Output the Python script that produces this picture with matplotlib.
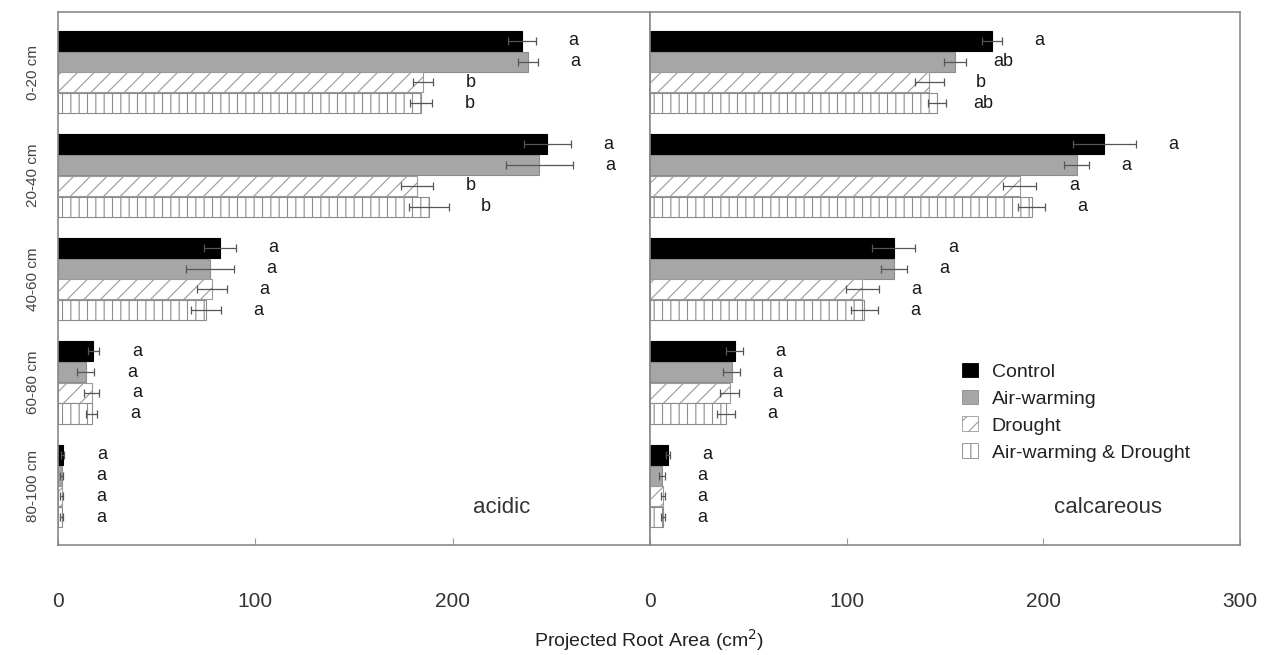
import numpy as np
import matplotlib
matplotlib.use('Agg')
import matplotlib.pyplot as plt
from matplotlib.patches import Patch

plt.rcParams['font.family'] = ['Liberation Sans', 'DejaVu Sans']
plt.rcParams['hatch.linewidth'] = 0.8

depths = ['0-20 cm', '20-40 cm', '40-60 cm', '60-80 cm', '80-100 cm']
treatments = ['Control', 'Air-warming', 'Drought', 'Air-warming & Drought']

# acidic soil
ac_control = [235, 248, 82, 18, 2.5]
ac_warm = [238, 244, 77, 14, 2]
ac_drought = [185, 182, 78, 17, 2]
ac_both = [184, 188, 75, 17, 2]
ac_control_se = [7, 12, 8, 3, 0.8]
ac_warm_se = [5, 17, 12, 4.4, 0.8]
ac_drought_se = [5, 8, 7.6, 4, 0.8]
ac_both_se = [5.6, 10, 7.5, 3, 0.8]
ac_control_let = ['a', 'a', 'a', 'a', 'a']
ac_warm_let = ['a', 'a', 'a', 'a', 'a']
ac_drought_let = ['b', 'b', 'a', 'a', 'a']
ac_both_let = ['b', 'b', 'a', 'a', 'a']

# calcareous soil
ca_control = [174, 231, 124, 43, 9]
ca_warm = [155, 217, 124, 41.5, 6]
ca_drought = [142, 188, 108, 40.5, 6.5]
ca_both = [146, 194, 109, 38.5, 6.5]
ca_control_se = [5, 16, 11, 4.3, 1]
ca_warm_se = [5.6, 6.4, 6.7, 4.2, 1.5]
ca_drought_se = [7.3, 8.5, 8.5, 5, 1]
ca_both_se = [4.5, 7, 6.8, 4.5, 1]
ca_control_let = ['a', 'a', 'a', 'a', 'a']
ca_warm_let = ['ab', 'a', 'a', 'a', 'a']
ca_drought_let = ['b', 'a', 'a', 'a', 'a']
ca_both_let = ['ab', 'a', 'a', 'a', 'a']

styles = [dict(color='black', edgecolor='black'),
          dict(color='#a6a6a6', edgecolor='#8c8c8c'),
          dict(color='white', edgecolor='#9a9a9a', hatch='//'),
          dict(color='white', edgecolor='#8c8c8c', hatch='||')]

panels = [
    ('acidic', 0.75, [ac_control, ac_warm, ac_drought, ac_both],
     [ac_control_se, ac_warm_se, ac_drought_se, ac_both_se],
     [ac_control_let, ac_warm_let, ac_drought_let, ac_both_let]),
    ('calcareous', 0.776, [ca_control, ca_warm, ca_drought, ca_both],
     [ca_control_se, ca_warm_se, ca_drought_se, ca_both_se],
     [ca_control_let, ca_warm_let, ca_drought_let, ca_both_let]),
]

fig = plt.figure(figsize=(12.71, 6.55), dpi=100)
ax1 = fig.add_axes([0.0456, 0.168, 0.4658, 0.8137])
ax2 = fig.add_axes([0.5114, 0.168, 0.4642, 0.8137])

base = np.arange(len(depths)) * 5
for ax, (name, nx, means, ses, lets) in zip([ax1, ax2], panels):
    for i in range(4):
        y = base + i
        ax.barh(y, means[i], height=0.97, linewidth=0.8, **styles[i])
        ax.errorbar(means[i], y, xerr=ses[i], fmt='none', ecolor='#555555',
                    elinewidth=0.9, capsize=3, capthick=0.9)
        for k in range(len(depths)):
            ax.text(means[i][k] + ses[i][k] + 19, y[k], lets[i][k],
                    ha='center', va='center', fontsize=13, color='#1a1a1a')
    ax.set_xlim(0, 300)
    ax.set_ylim(24.35, -1.4)
    ax.text(nx, 0.07, name, transform=ax.transAxes, ha='center',
            va='center', fontsize=16, color='#333333')
    for sp in ax.spines.values():
        sp.set_color('#8a8a8a')
        sp.set_linewidth(1.2)
    ax.tick_params(axis='x', direction='in', length=5, color='#999999',
                   pad=34, labelsize=15, labelcolor='#333333')

ax1.set_xticks([0, 100, 200])
ax2.set_xticks([0, 100, 200, 300])
ax1.set_yticks(base + 1.5)
ax1.set_yticklabels(depths, rotation=90, va='center', fontsize=11,
                    color='#444444')
ax1.tick_params(axis='y', length=0, pad=13)
ax2.set_yticks([])

handles = [Patch(facecolor=s['color'], edgecolor=s['edgecolor'],
                 hatch=s.get('hatch'), linewidth=0.6) for s in styles]
ax2.legend(handles, treatments, loc='upper left',
           bbox_to_anchor=(0.5, 0.375), frameon=False, fontsize=14,
           handlelength=0.8, handleheight=0.8, handletextpad=0.7,
           labelspacing=0.45, labelcolor='#222222')

fig.text(0.511, 0.012, 'Projected Root Area (cm$^2$)', ha='center',
         fontsize=14, color='#222222')

fig.savefig('out.png', dpi=100)
